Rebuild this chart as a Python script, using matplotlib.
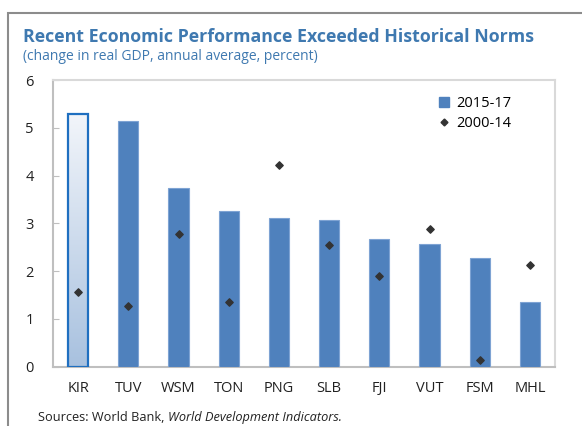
import numpy as np
import matplotlib
matplotlib.use("Agg")
from matplotlib import pyplot as plt
from matplotlib.patches import Rectangle
from matplotlib.lines import Line2D

# data
countries = ["KIR", "TUV", "WSM", "TON", "PNG", "SLB", "FJI", "VUT", "FSM", "MHL"]
growth_2015_17 = [5.29, 5.14, 3.75, 3.26, 3.12, 3.07, 2.67, 2.56, 2.28, 1.35]
growth_2000_14 = [1.56, 1.26, 2.78, 1.36, 4.23, 2.55, 1.90, 2.88, 0.13, 2.13]
yticks = [0, 1, 2, 3, 4, 5, 6]

BLUE = "#4f81bd"
TITLE_BLUE = "#3f79b0"

plt.rcParams['font.family'] = ['Open Sans', 'DejaVu Sans']

fig = plt.figure(figsize=(5.82, 4.26), dpi=100)
ax = fig.add_axes([53/582, 1-366.7/426, (555-53)/582, (366.7-80)/426])

x = np.arange(len(countries))
w = 0.4

# normal bars (first one gets a gradient fill below)
colors = ["none"] + [BLUE]*(len(countries)-1)
edges = ["#1f6fc0"] + ["#7ea3d3"]*(len(countries)-1)
lws = [1.6] + [0.8]*(len(countries)-1)
bars = ax.bar(x, growth_2015_17, width=w, color=colors, edgecolor=edges,
              linewidth=lws, zorder=3, label="2015-17")

# gradient for KIR
grad = np.linspace(0, 1, 256).reshape(-1, 1)
cmap = matplotlib.colors.LinearSegmentedColormap.from_list("g", ["#f2f5fa", "#a8c1df"])
ax.imshow(grad, extent=[x[0]-w/2, x[0]+w/2, 0, growth_2015_17[0]], origin="upper",
          cmap=cmap, aspect="auto", zorder=2)

ax.scatter(x, growth_2000_14, marker="D", s=14, color="#333333", zorder=4,
           label="2000-14")

ax.set_xlim(-0.5, len(countries)-0.5)
ax.set_ylim(0, 6)
ax.set_yticks(yticks)
ax.set_xticks(x)
ax.set_xticklabels(countries)
ax.tick_params(axis="y", length=4, width=0.8, color="#bfbfbf", pad=14,
               labelsize=10.5, labelcolor="#222222", direction="in")
ax.tick_params(axis="x", length=0, pad=10, labelsize=10.5, labelcolor="#222222")

for s in ["left", "bottom"]:
    ax.spines[s].set_color("#bfbfbf")
    ax.spines[s].set_linewidth(1.5)
for s in ["top", "right"]:
    ax.spines[s].set_color("#d9d9d9")
    ax.spines[s].set_linewidth(1.5)

handles = [Rectangle((0, 0), 1, 1, color=BLUE),
           Line2D([], [], marker="D", ls="none", color="#333333", markersize=3.5)]
ax.legend(handles, ["2015-17", "2000-14"], loc="upper right",
          bbox_to_anchor=(0.94, 0.99), frameon=False, fontsize=10.5,
          handlelength=0.7, handletextpad=0.5, labelspacing=0.35)

fig.text(23/582, 1-37/426, "Recent Economic Performance Exceeded Historical Norms",
         color=TITLE_BLUE, fontsize=12.8, fontweight="bold", va="center")
fig.text(23/582, 1-56/426, "(change in real GDP, annual average, percent)",
         color=TITLE_BLUE, fontsize=10, va="center")

# source line at the bottom
src = fig.text(38/582, 1-411/426, "Sources: World Bank, ", fontsize=9.2,
               color="#222222", va="top")
fig.canvas.draw()
bb = src.get_window_extent()
fig.text(bb.x1/582, 1-411/426, "World Development Indicators.", fontsize=9.2,
         color="#222222", va="top", style="italic")

# outer frame
fig.patches.append(Rectangle((8/582, -0.2), 1.2, 1.2 - 13/426,
                             transform=fig.transFigure, fill=False,
                             edgecolor="#8c8c8c", linewidth=1.5))

fig.savefig("out.png", dpi=100)
